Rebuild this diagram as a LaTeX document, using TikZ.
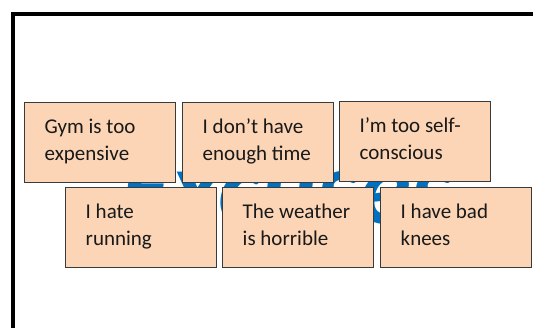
\documentclass[tikz,border=0pt]{standalone}
\usepackage{fontspec}
\setmainfont{Carlito}
\definecolor{peach}{HTML}{FBD5B5}
\definecolor{boxline}{HTML}{3A3A3A}
\definecolor{hiddenblue}{HTML}{0070C0}
\begin{document}
\begin{tikzpicture}[x=1pt,y=-1pt,
  card/.style={draw=boxline, line width=1.4pt, fill=peach, anchor=north west, inner sep=0pt, minimum width=151pt, minimum height=80pt},
  cardtext/.style={anchor=base west, align=left, inner sep=0pt, font=\fontsize{21}{26.5}\selectfont, text=black!90}
]
\useasboundingbox (0,0) rectangle (533,328);
\clip (0,0) rectangle (533,328);
\fill[white] (0,0) rectangle (533,328);
\draw[line width=4pt, line join=miter] (13,700) -- (13,14) -- (900,14);
% hidden blue word behind the cards
\node[anchor=base west, inner sep=0pt, text=hiddenblue, font=\fontsize{106}{106}\selectfont\bfseries\itshape] (word) at (120,224) {Excuses};
% cards
\node[card] (b1) at (24,102) {};
\node[card] (b2) at (182,102) {};
\node[card] (b3) at (339,101) {};
\node[card] (b4) at (65,187) {};
\node[card] (b5) at (222,187) {};
\node[card] (b6) at (380,187) {};
\node[cardtext] (t1) at ([shift={(20.5,58.5)}]b1.north west) {Gym is too\\expensive};
\node[cardtext] (t2) at ([shift={(20.5,58.5)}]b2.north west) {I don’t have\\enough time};
\node[cardtext] (t3) at ([shift={(20.5,58.5)}]b3.north west) {I’m too self-\\conscious};
\node[cardtext] (t4) at ([shift={(20.5,58.5)}]b4.north west) {I hate\\running};
\node[cardtext] (t5) at ([shift={(20.5,58.5)}]b5.north west) {The weather\\is horrible};
\node[cardtext] (t6) at ([shift={(20.5,58.5)}]b6.north west) {I have bad\\knees};
\end{tikzpicture}
\end{document}
